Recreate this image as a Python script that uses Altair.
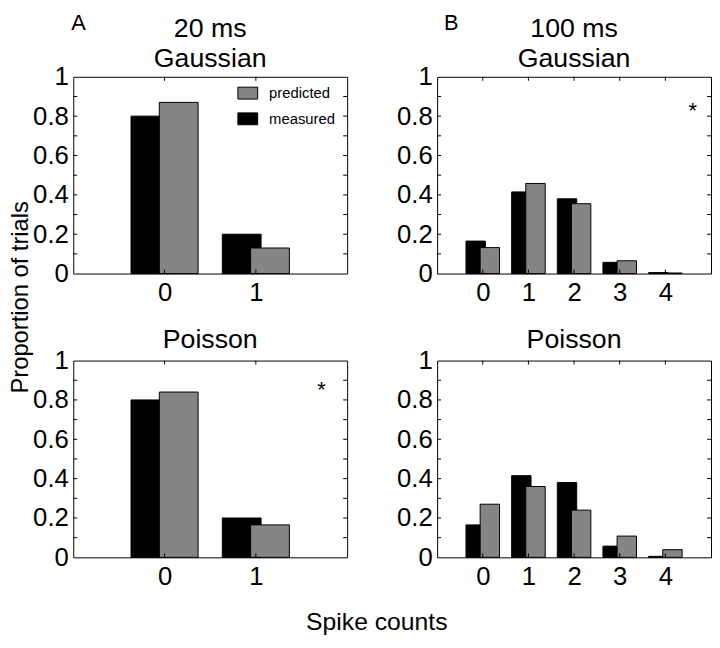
import altair as alt
import pandas as pd

FONT = "Liberation Sans"

# ---- data ----
counts_20 = [0, 1]
counts_100 = [0, 1, 2, 3, 4]

gauss_20_measured = [0.80, 0.20]
gauss_20_predicted = [0.87, 0.13]
poisson_20_measured = [0.80, 0.20]
poisson_20_predicted = [0.84, 0.165]

gauss_100_measured = [0.165, 0.415, 0.38, 0.057, 0.005]
gauss_100_predicted = [0.132, 0.458, 0.355, 0.065, 0.003]
poisson_100_measured = [0.165, 0.415, 0.38, 0.057, 0.005]
poisson_100_predicted = [0.27, 0.36, 0.24, 0.108, 0.039]

series_names = ["predicted", "measured"]
series_colors = ["#858585", "#000000"]

y_label_values = [0, 0.2, 0.4, 0.6, 0.8, 1]
y_minor_ticks = [0.1, 0.2, 0.3, 0.4, 0.5, 0.6, 0.7, 0.8, 0.9]

# asterisk annotations (count, proportion)
star_gauss_100 = [4.6, 0.79]
star_poisson_20 = [1.72, 0.815]

W, H = 277, 199
BAR_W = 0.425
OFFSET = 0.155


def panel(counts, measured, predicted, xmax, title, title_dy, show_legend=False, star=None,
          extras=()):
    rows = [{"count": c, "series": "measured", "value": v} for c, v in zip(counts, measured)]
    rows += [{"count": c, "series": "predicted", "value": v} for c, v in zip(counts, predicted)]
    df = pd.DataFrame(rows)
    xscale = alt.Scale(domain=[-1, xmax], nice=False, zero=False)
    yscale = alt.Scale(domain=[0, 1], nice=False, zero=True)
    x_axis = alt.Axis(values=counts, format="d", ticks=False, title=None,
                      domain=False, grid=False, labelFontSize=26, labelFont=FONT,
                      labelPadding=6, labelColor="black", labelFlush=False,
                      labelOverlap=False)
    y_axis = alt.Axis(values=y_label_values, format="~g", ticks=False, title=None,
                      domain=False, grid=False, labelFontSize=26, labelFont=FONT,
                      labelPadding=5, labelColor="black", labelFlush=False,
                      labelOverlap=False)
    if show_legend:
        legend = alt.Legend(
            orient="none", legendX=166, legendY=6, title=None,
            symbolType="M-1,-0.6H1V0.6H-1Z", symbolSize=400,
            symbolStrokeColor="black", symbolStrokeWidth=1, symbolOpacity=1,
            labelFontSize=15, labelFont=FONT, labelColor="black",
            labelOffset=11, rowPadding=7, padding=0,
        )
    else:
        legend = None
    bars = alt.Chart(df).transform_calculate(
        off=f"datum.series == 'measured' ? {-OFFSET} : {OFFSET}"
    ).transform_calculate(
        x0=f"datum.count + datum.off - {BAR_W / 2}",
        x1=f"datum.count + datum.off + {BAR_W / 2}",
    ).mark_bar(stroke="black", strokeWidth=1, opacity=1).encode(
        x=alt.X("x0:Q", scale=xscale, axis=x_axis),
        x2="x1:Q",
        y=alt.Y("value:Q", scale=yscale, axis=y_axis),
        y2=alt.Y2(datum=0),
        color=alt.Color("series:N", scale=alt.Scale(domain=series_names, range=series_colors),
                        legend=legend),
    )
    ydf = pd.DataFrame({"t": y_minor_ticks})
    cdf = pd.DataFrame({"c": counts})
    left = alt.Chart(ydf).mark_rule(color="black", strokeWidth=1).encode(
        y=alt.Y("t:Q", scale=yscale, axis=y_axis), x=alt.value(0), x2=alt.value(4))
    right = alt.Chart(ydf).mark_rule(color="black", strokeWidth=1).encode(
        y=alt.Y("t:Q", scale=yscale, axis=y_axis), x=alt.value(W - 4), x2=alt.value(W))
    top = alt.Chart(cdf).mark_rule(color="black", strokeWidth=1).encode(
        x=alt.X("c:Q", scale=xscale, axis=x_axis), y=alt.value(0), y2=alt.value(4))
    bottom = alt.Chart(cdf).mark_rule(color="black", strokeWidth=1).encode(
        x=alt.X("c:Q", scale=xscale, axis=x_axis), y=alt.value(H - 4), y2=alt.value(H))
    layers = [bars, left, right, top, bottom]
    if star is not None:
        sdf = pd.DataFrame({"sx": [star[0]], "sy": [star[1]]})
        layers.append(alt.Chart(sdf).mark_text(text="*", fontSize=22, font=FONT, color="black",
                                               align="center", baseline="alphabetic").encode(
            x=alt.X("sx:Q", scale=xscale, axis=x_axis), y=alt.Y("sy:Q", scale=yscale, axis=y_axis)))
    layers.extend(extras)
    return alt.layer(*layers).properties(
        width=W, height=H,
        title=alt.TitleParams(text=title, fontSize=27, font=FONT, fontWeight="normal",
                              offset=4, lineHeight=30, anchor="middle", color="black",
                              frame="group", dy=title_dy),
    )


one = pd.DataFrame({"a": [0]})
label_A = alt.Chart(one).mark_text(text="A", fontSize=22, font=FONT, color="black",
                                   align="left", baseline="alphabetic").encode(
    x=alt.value(-2), y=alt.value(-47))
label_B = alt.Chart(one).mark_text(text="B", fontSize=22, font=FONT, color="black",
                                   align="left", baseline="alphabetic").encode(
    x=alt.value(7), y=alt.value(-47))
y_title = alt.Chart(one).mark_text(text="Proportion of trials", fontSize=24, font=FONT,
                                   color="black", angle=270, align="center",
                                   baseline="middle").encode(
    x=alt.value(-53), y=alt.value(223))
x_title = alt.Chart(one).mark_text(text="Spike counts", fontSize=25, font=FONT, color="black",
                                   align="center", baseline="alphabetic").encode(
    x=alt.value(307), y=alt.value(272))

pA1 = panel(counts_20, gauss_20_measured, gauss_20_predicted, 2, ["20 ms", "Gaussian"], 65,
            show_legend=True, extras=[label_A, y_title])
pB1 = panel(counts_100, gauss_100_measured, gauss_100_predicted, 5, ["100 ms", "Gaussian"], 65,
            star=star_gauss_100, extras=[label_B])
pA2 = panel(counts_20, poisson_20_measured, poisson_20_predicted, 2, "Poisson", 10,
            star=star_poisson_20, extras=[x_title])
pB2 = panel(counts_100, poisson_100_measured, poisson_100_predicted, 5, "Poisson", 10)

chart = alt.concat(
    pA1, pB1, pA2, pB2, columns=2, bounds="flush",
    spacing=alt.RowColnumber(row=88, column=91),
).resolve_scale(color="independent").resolve_legend(color="independent").properties(
    padding=0, background="white"
).configure(font=FONT).configure_view(stroke="black", strokeWidth=1)

chart.save("out.html", embed_options={"renderer": "svg", "actions": False})
